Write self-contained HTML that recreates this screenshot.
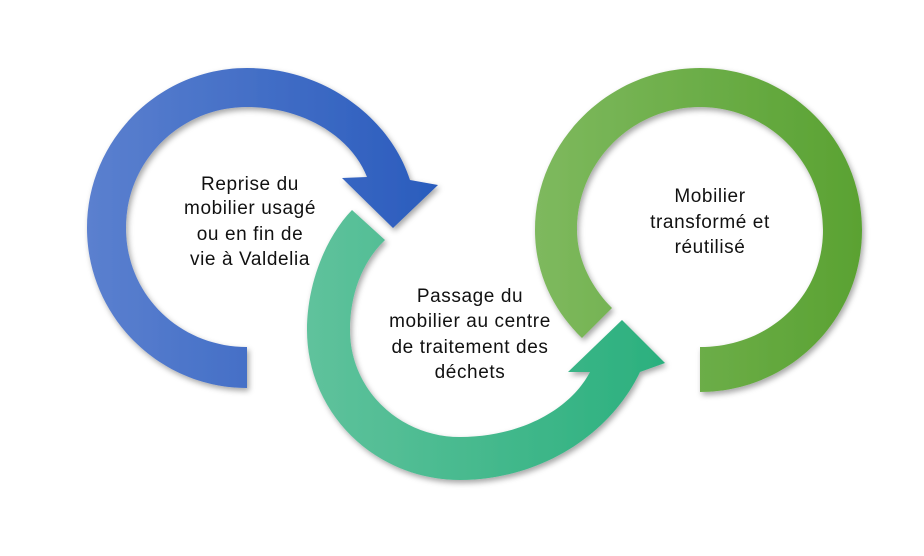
<!DOCTYPE html>
<html><head><meta charset="utf-8"><style>
html,body{margin:0;padding:0;background:#fff;}
svg{display:block}
text{font-family:"Liberation Sans",sans-serif;font-size:19px;fill:#111;text-anchor:middle;letter-spacing:0.6px}
</style></head><body>
<svg width="924" height="556" viewBox="0 0 924 556" xmlns="http://www.w3.org/2000/svg">
<defs>
<linearGradient id="gb" x1="0" x2="1" y1="0" y2="0"><stop offset="0" stop-color="#5b80cf"/><stop offset="1" stop-color="#2a5cbd"/></linearGradient>
<linearGradient id="gt" x1="0" x2="1" y1="0" y2="0"><stop offset="0" stop-color="#5fc29c"/><stop offset="1" stop-color="#2bb07e"/></linearGradient>
<linearGradient id="gg" x1="0" x2="1" y1="0" y2="0"><stop offset="0" stop-color="#7eb95e"/><stop offset="1" stop-color="#5aa232"/></linearGradient>
<filter id="sh" x="-10%" y="-10%" width="130%" height="130%"><feDropShadow dx="2" dy="3" stdDeviation="3" flood-color="#000" flood-opacity="0.35"/></filter>
</defs>
<g filter="url(#sh)">
<path fill="url(#gb)" d="M247,388 C159,388 87,316 87,228 C87,140 159,68 247,68 C325,68 390,118 410,180 L438,185 L393,228 L342,178 L367,177 C352,138 305,107 247,107 C180,107 126,161 126,228 C126,295 180,347 247,347 Z"/>
<path fill="url(#gg)" d="M700,392 C789,392 862,320 862,230 C862,140 789,68 700,68 C609,68 535,142 535,230 C535,275 555,312 582,338 L612,308 C592,288 577,260 577,230 C577,162 632,107 700,107 C768,107 823,162 823,230 C823,298 768,347 700,347 Z"/>
<path fill="url(#gt)" d="M352,210 C325,238 307,285 307,330 C307,413 375,480 460,480 C540,480 610,435 640,372 L665,363 L622,320 L568,372 L590,372 C570,410 520,437 460,437 C400,437 350,390 350,330 C350,295 362,262 385,240 Z"/>
</g>
<text x="250" y="190">Reprise du</text>
<text x="250" y="214">mobilier usagé</text>
<text x="250" y="240">ou en fin de</text>
<text x="250" y="265">vie à Valdelia</text>
<text x="470" y="302">Passage du</text>
<text x="470" y="327">mobilier au centre</text>
<text x="470" y="353">de traitement des</text>
<text x="470" y="378">déchets</text>
<text x="710" y="202">Mobilier</text>
<text x="710" y="228">transformé et</text>
<text x="710" y="253">réutilisé</text>
</svg>
</body></html>
